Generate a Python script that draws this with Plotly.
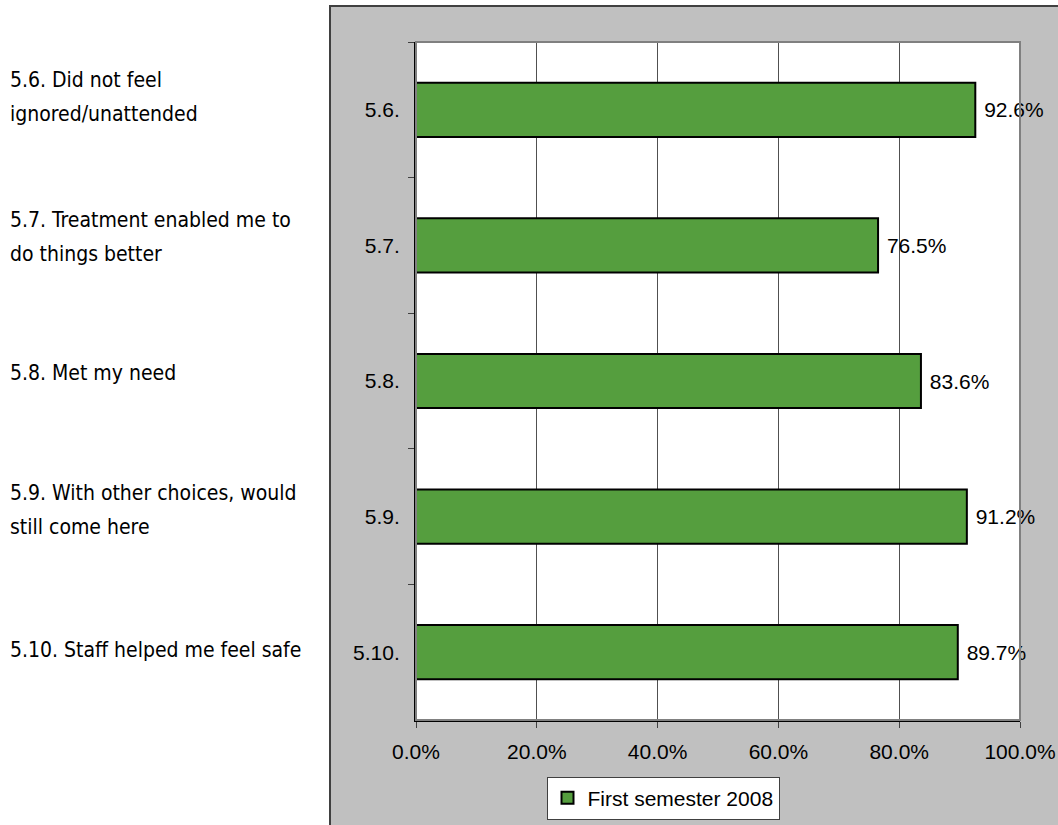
import plotly.graph_objects as go

# Survey items and share of positive responses (%)
codes = ["5.6.", "5.7.", "5.8.", "5.9.", "5.10."]
descriptions = [
    "5.6. Did not feel<br>ignored/unattended",
    "5.7. Treatment enabled me to<br>do things better",
    "5.8. Met my need",
    "5.9. With other choices, would<br>still come here",
    "5.10. Staff helped me feel safe",
]
values = [92.6, 76.5, 83.6, 91.2, 89.7]
series_name = "First semester 2008"
x_ticks = [0, 20, 40, 60, 80, 100]

W, H = 1058, 825
M_L, M_R, M_T, M_B = 416, 38, 42, 105
PW, PH = W - M_L - M_R, H - M_T - M_B

# vertical placement (page pixels) of the first line of each description
DESC_TOP = [80, 220, 373, 493, 650]
DESC_LINE_GAP = 34


def px_x(p):
    return (p - M_L) / PW


def px_y(p):
    return (H - M_B - p) / PH


BAR_GREEN = "#559E3E"
PANEL_GRAY = "#C0C0C0"
TICK_FONT = dict(family="Liberation Sans, Arial, sans-serif", size=21, color="#000000")
LABEL_FONT = dict(family="Liberation Sans Narrow, Arial Narrow, DejaVu Sans Condensed, sans-serif",
                  size=21, color="#000000")

fig = go.Figure()
fig.add_trace(go.Bar(
    y=codes,
    x=values,
    orientation="h",
    name=series_name,
    marker=dict(color=BAR_GREEN, line=dict(color="#000000", width=2)),
    text=values,
    texttemplate=" %{x:.1f}%",
    textposition="outside",
    textfont=TICK_FONT,
    cliponaxis=False,
    showlegend=True,
))

shapes = [
    # grey chart panel
    dict(type="rect", xref="paper", yref="paper", layer="below",
         x0=px_x(330), x1=px_x(W + 20), y0=px_y(H + 20), y1=px_y(6),
         fillcolor=PANEL_GRAY, line=dict(color="#404040", width=2)),
    # white plot area on top of the panel
    dict(type="rect", xref="paper", yref="paper", layer="below",
         x0=0, x1=1, y0=0, y1=1, fillcolor="#FFFFFF", line=dict(width=0)),
    # plot-area frame (top and right edges in grey)
    dict(type="rect", xref="paper", yref="paper", layer="above",
         x0=0, x1=1, y0=0, y1=1, line=dict(color="#808080", width=2)),
]

annotations = []
for top, d in zip(DESC_TOP, descriptions):
    for i, line in enumerate(d.split("<br>")):
        annotations.append(dict(
            xref="paper", yref="paper", x=px_x(8), y=px_y(top + i * DESC_LINE_GAP),
            text=line, showarrow=False, xanchor="left", yanchor="middle",
            align="left", font=LABEL_FONT,
        ))

fig.update_layout(
    width=W, height=H,
    margin=dict(l=M_L, r=M_R, t=M_T, b=M_B, pad=0, autoexpand=False),
    paper_bgcolor="#FFFFFF",
    plot_bgcolor="rgba(0,0,0,0)",
    bargap=0.6,
    shapes=shapes,
    annotations=annotations,
    showlegend=True,
    legend=dict(
        x=px_x(663), y=px_y(798), xanchor="center", yanchor="middle",
        orientation="h", bgcolor="#FFFFFF", bordercolor="#404040", borderwidth=1,
        font=TICK_FONT, itemwidth=30,
    ),
    xaxis=dict(
        range=[0, 100], tickvals=x_ticks, ticktext=[f"{v:.1f}%" for v in x_ticks],
        showgrid=True, gridcolor="#505050", gridwidth=1,
        showline=True, linecolor="#000000", linewidth=2,
        ticks="outside", ticklen=6, tickcolor="#404040",
        tickfont=TICK_FONT, zeroline=False, ticklabelstandoff=6, automargin=False,
    ),
    yaxis=dict(
        type="category", categoryorder="array", categoryarray=codes,
        autorange="reversed", tickson="boundaries",
        showgrid=False, showline=True, linecolor="#000000", linewidth=2,
        ticks="outside", ticklen=6, tickcolor="#404040",
        tickfont=TICK_FONT, ticklabelstandoff=10, automargin=False,
    ),
)

fig.write_html("out.html")
